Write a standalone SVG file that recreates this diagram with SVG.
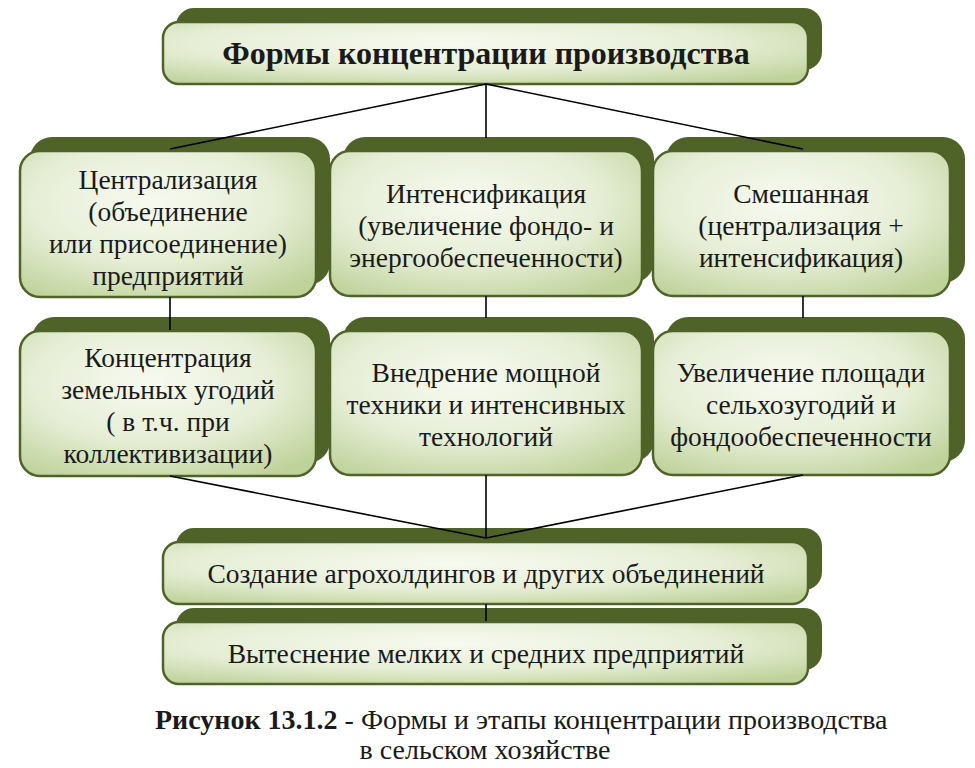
<svg xmlns="http://www.w3.org/2000/svg" width="975" height="768" viewBox="0 0 975 768">
<defs>
<radialGradient id="g" cx="0.45" cy="0.35" r="0.75">
<stop offset="0" stop-color="#f7faf0"/>
<stop offset="0.55" stop-color="#e6eed6"/>
<stop offset="1" stop-color="#bfd29a"/>
</radialGradient>
<style>
.bk{fill:#4f6228;}
.fr{fill:url(#g);stroke:#4f6228;stroke-width:2.5;}
.t{font-family:"Liberation Serif","Times New Roman","DejaVu Serif",serif;font-size:27.5px;fill:#1a1a1a;text-anchor:middle;}
.tb{font-family:"Liberation Serif","Times New Roman","DejaVu Serif",serif;font-size:32px;font-weight:bold;fill:#1a1a1a;text-anchor:middle;}
.c{font-family:"Liberation Serif","Times New Roman","DejaVu Serif",serif;font-size:28px;fill:#1a1a1a;}
.ln{stroke:#000;stroke-width:1.6;fill:none;}
</style>
</defs>
<rect width="975" height="768" fill="#fff"/>

<g id="top">
<rect class="bk" x="176" y="8" width="646" height="62" rx="18"/>
<rect class="fr" x="163" y="22" width="645" height="62" rx="16"/>
<text class="tb" x="486" y="64">Формы концентрации производства</text>
</g>

<g id="centralization">
<rect class="bk" x="30" y="137" width="300" height="148" rx="22"/>
<rect class="fr" x="20" y="151" width="296" height="146" rx="20"/>
<text class="t" x="168" y="189">Централизация</text>
<text class="t" x="168" y="221">(объединение</text>
<text class="t" x="168" y="253">или присоединение)</text>
<text class="t" x="168" y="285">предприятий</text>
</g>

<g id="intensification">
<rect class="bk" x="343" y="137" width="311" height="146" rx="22"/>
<rect class="fr" x="330" y="151" width="312" height="145" rx="20"/>
<text class="t" x="486" y="203">Интенсификация</text>
<text class="t" x="486" y="235">(увеличение фондо- и</text>
<text class="t" x="486" y="267">энергообеспеченности)</text>
</g>

<g id="mixed">
<rect class="bk" x="666" y="137" width="299" height="146" rx="22"/>
<rect class="fr" x="653" y="151" width="297" height="145" rx="20"/>
<text class="t" x="801" y="203">Смешанная</text>
<text class="t" x="801" y="235">(централизация +</text>
<text class="t" x="801" y="267">интенсификация)</text>
</g>

<g id="land">
<rect class="bk" x="32" y="317" width="298" height="146" rx="22"/>
<rect class="fr" x="20" y="331" width="296" height="145" rx="20"/>
<text class="t" x="168" y="367">Концентрация</text>
<text class="t" x="168" y="399">земельных угодий</text>
<text class="t" x="168" y="431">( в т.ч. при</text>
<text class="t" x="168" y="463">коллективизации)</text>
</g>

<g id="technique">
<rect class="bk" x="343" y="317" width="311" height="145" rx="22"/>
<rect class="fr" x="330" y="331" width="312" height="144" rx="20"/>
<text class="t" x="486" y="382">Внедрение мощной</text>
<text class="t" x="486" y="414">техники и интенсивных</text>
<text class="t" x="486" y="446">технологий</text>
</g>

<g id="area">
<rect class="bk" x="666" y="317" width="299" height="145" rx="22"/>
<rect class="fr" x="653" y="331" width="297" height="144" rx="20"/>
<text class="t" x="801" y="382">Увеличение площади</text>
<text class="t" x="801" y="414">сельхозугодий и</text>
<text class="t" x="801" y="446">фондообеспеченности</text>
</g>

<g id="agroholdings">
<rect class="bk" x="176" y="528" width="646" height="62" rx="18"/>
<rect class="fr" x="163" y="542" width="645" height="62" rx="16"/>
<text class="t" x="486" y="583">Создание агрохолдингов и других объединений</text>
</g>

<g id="displacement">
<rect class="bk" x="176" y="608" width="646" height="62" rx="18"/>
<rect class="fr" x="163" y="622" width="645" height="62" rx="16"/>
<text class="t" x="486" y="663">Вытеснение мелких и средних предприятий</text>
</g>

<g id="connectors">
<line class="ln" x1="486" y1="84" x2="170" y2="149"/>
<line class="ln" x1="486" y1="84" x2="486" y2="138"/>
<line class="ln" x1="486" y1="84" x2="803" y2="149"/>
<line class="ln" x1="170" y1="297" x2="170" y2="330"/>
<line class="ln" x1="486" y1="296" x2="486" y2="318"/>
<line class="ln" x1="803" y1="296" x2="803" y2="318"/>
<line class="ln" x1="170" y1="476" x2="486" y2="538"/>
<line class="ln" x1="803" y1="475" x2="486" y2="538"/>
<line class="ln" x1="486" y1="475" x2="486" y2="538"/>
<line class="ln" x1="486" y1="604" x2="486" y2="621"/>
</g>

<g id="caption">
<text class="c" x="155" y="729"><tspan font-weight="bold">Рисунок 13.1.2</tspan> - Формы и этапы концентрации производства</text>
<text class="c" x="485" y="759" text-anchor="middle">в сельском хозяйстве</text>
</g>
</svg>
